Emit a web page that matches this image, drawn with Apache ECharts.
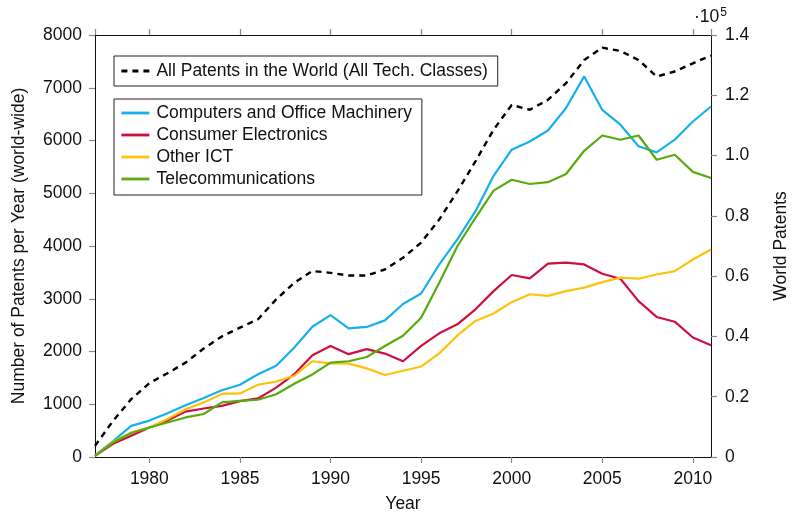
<!DOCTYPE html>
<html>
<head>
<meta charset="utf-8">
<script src="https://cdn.jsdelivr.net/npm/echarts@6/dist/echarts.min.js"></script>
<style>
  html, body { margin: 0; padding: 0; background: #fff; }
  #chart { width: 798px; height: 518px; }
</style>
</head>
<body>
<div id="chart"></div>
<script>
// years on the x axis
const years = [1977, 1978, 1979, 1980, 1981, 1982, 1983, 1984, 1985, 1986, 1987, 1988,
  1989, 1990, 1991, 1992, 1993, 1994, 1995, 1996, 1997, 1998, 1999, 2000, 2001, 2002,
  2003, 2004, 2005, 2006, 2007, 2008, 2009, 2010, 2011]

const computers = [30, 300, 590, 690, 830, 980, 1120, 1265, 1370, 1570, 1730, 2075,
  2470, 2690, 2440, 2465, 2590, 2900, 3100, 3650, 4125, 4660, 5330, 5825, 5980, 6190,
  6615, 7215, 6580, 6300, 5890, 5775, 6015, 6360, 6645]

const consumer = [20, 250, 405, 560, 690, 860, 920, 970, 1060, 1110, 1315, 1570,
  1930, 2105, 1950, 2045, 1960, 1815, 2105, 2345, 2515, 2800, 3145, 3450, 3385, 3665,
  3685, 3650, 3475, 3380, 2955, 2655, 2565, 2265, 2120]

const otherICT = [20, 290, 465, 560, 720, 905, 1035, 1195, 1205, 1370, 1430, 1540,
  1815, 1775, 1770, 1680, 1555, 1635, 1715, 1965, 2305, 2580, 2720, 2935, 3085, 3055,
  3145, 3210, 3315, 3400, 3380, 3460, 3525, 3745, 3935]

const telecom = [20, 275, 455, 560, 655, 750, 815, 1035, 1065, 1085, 1190, 1390,
  1565, 1790, 1815, 1895, 2105, 2300, 2640, 3305, 3995, 4535, 5050, 5255, 5175, 5210,
  5365, 5805, 6095, 6015, 6095, 5635, 5730, 5405, 5290]

// right axis, all tech classes
const allPatents = [3700, 12000, 19200, 24500, 27800, 31300, 36000, 40000, 42900, 45700,
  52300, 57800, 61700, 61100, 60200, 60200, 62200, 66100, 71100, 78800, 88100, 98100,
  108600, 116800, 115200, 118500, 124000, 131700, 135800, 134700, 131700, 126200,
  127900, 130600, 133200]

const FONT = 'Liberation Sans'
const FS = 17.5
const TICK = { color: '#888', width: 1.2 }
let myChart = echarts.init(document.getElementById('chart'))

// pair every value with its year
const pairs = arr => arr.map((v, i) => [years[i], v])

const xCommon = {
  type: 'value',
  min: 1977, max: 2011,
  splitNumber: 6,
  axisLine: { show: true, onZero: false, lineStyle: { color: '#111', width: 1 } },
  axisTick: { show: true, length: 6, lineStyle: TICK },
  splitLine: { show: false }
}

let option = {
  animation: false,
  textStyle: { fontFamily: FONT },
  grid: { left: 95, right: 78, top: 35, bottom: 60 },
  legend: [
    {
      data: ['All Patents in the World (All Tech. Classes)'],
      left: 114, top: 56,
      borderColor: '#222', borderWidth: 1,
      padding: [6, 10, 6, 6],
      itemWidth: 28, itemHeight: 14,
      itemStyle: { opacity: 0 },
      lineStyle: { width: 2.8 },
      textStyle: { fontFamily: FONT, fontSize: FS, color: '#111', padding: [0, 0, 0, 2] }
    },
    {
      data: ['Computers and Office Machinery', 'Consumer Electronics', 'Other ICT', 'Telecommunications'],
      orient: 'vertical',
      left: 114, top: 99,
      borderColor: '#222', borderWidth: 1,
      padding: [4, 10, 6, 6],
      itemGap: 2,
      itemWidth: 28, itemHeight: 14,
      itemStyle: { opacity: 0 },
      lineStyle: { width: 2.8 },
      textStyle: { fontFamily: FONT, fontSize: FS, color: '#111', lineHeight: 20, padding: [0, 0, 0, 2] }
    }
  ],
  xAxis: [
    Object.assign({}, xCommon, {
      name: 'Year',
      nameLocation: 'middle',
      nameGap: 38,
      nameTextStyle: { fontFamily: FONT, fontSize: FS, color: '#111' },
      axisLabel: {
        margin: 13, fontFamily: FONT, fontSize: FS, color: '#111',
        showMinLabel: false, showMaxLabel: false,
        formatter: function (v) { return String(v) }
      }
    }),
    Object.assign({}, xCommon, {
      position: 'top',
      axisLabel: { show: false }
    })
  ],
  yAxis: [
    {
      type: 'value',
      min: 0, max: 8000, interval: 1000,
      name: 'Number of Patents per Year (world-wide)',
      nameLocation: 'middle',
      nameGap: 67,
      nameTextStyle: { fontFamily: FONT, fontSize: FS, color: '#111' },
      axisLine: { show: true, lineStyle: { color: '#111', width: 1 } },
      axisTick: { show: true, length: 6, lineStyle: TICK },
      axisLabel: {
        margin: 13, fontFamily: FONT, fontSize: FS, color: '#111',
        formatter: function (v) { return String(v) }
      },
      splitLine: { show: false }
    },
    {
      type: 'value',
      position: 'right',
      min: 0, max: 140000, interval: 20000,
      name: 'World Patents',
      nameLocation: 'middle',
      nameGap: 61,
      nameTextStyle: { fontFamily: FONT, fontSize: FS, color: '#111' },
      axisLine: { show: true, lineStyle: { color: '#111', width: 1 } },
      axisTick: { show: true, length: 6, lineStyle: TICK },
      axisLabel: {
        margin: 14, fontFamily: FONT, fontSize: FS, color: '#111',
        formatter: function (v) { return v === 0 ? '0' : (v / 1e5).toFixed(1) }
      },
      splitLine: { show: false }
    }
  ],
  series: [
    {
      name: 'All Patents in the World (All Tech. Classes)',
      type: 'line', xAxisIndex: 1, yAxisIndex: 1,
      data: pairs(allPatents),
      symbol: 'none',
      lineStyle: { color: '#000', width: 2.4, type: [6, 5] },
      itemStyle: { color: '#000' },
      z: 5
    },
    {
      name: 'Computers and Office Machinery',
      type: 'line', data: pairs(computers), symbol: 'none',
      lineStyle: { color: '#17b0ec', width: 2.2 }, itemStyle: { color: '#17b0ec' }
    },
    {
      name: 'Consumer Electronics',
      type: 'line', data: pairs(consumer), symbol: 'none',
      lineStyle: { color: '#cf0e42', width: 2.2 }, itemStyle: { color: '#cf0e42' }
    },
    {
      name: 'Other ICT',
      type: 'line', data: pairs(otherICT), symbol: 'none',
      lineStyle: { color: '#fdc20b', width: 2.2 }, itemStyle: { color: '#fdc20b' }
    },
    {
      name: 'Telecommunications',
      type: 'line', data: pairs(telecom), symbol: 'none',
      lineStyle: { color: '#58ab0e', width: 2.2 }, itemStyle: { color: '#58ab0e' }
    }
  ],
  graphic: [
    {
      type: 'text',
      left: 694, top: 7,
      style: {
        text: '·10{sup|5}',
        font: FS + 'px ' + FONT,
        fill: '#111',
        rich: { sup: { fontSize: 12, fontFamily: FONT, fill: '#111', verticalAlign: 'top', padding: [0, 0, 8, 1] } }
      }
    }
  ]
}
myChart.setOption(option)
</script>
</body>
</html>
